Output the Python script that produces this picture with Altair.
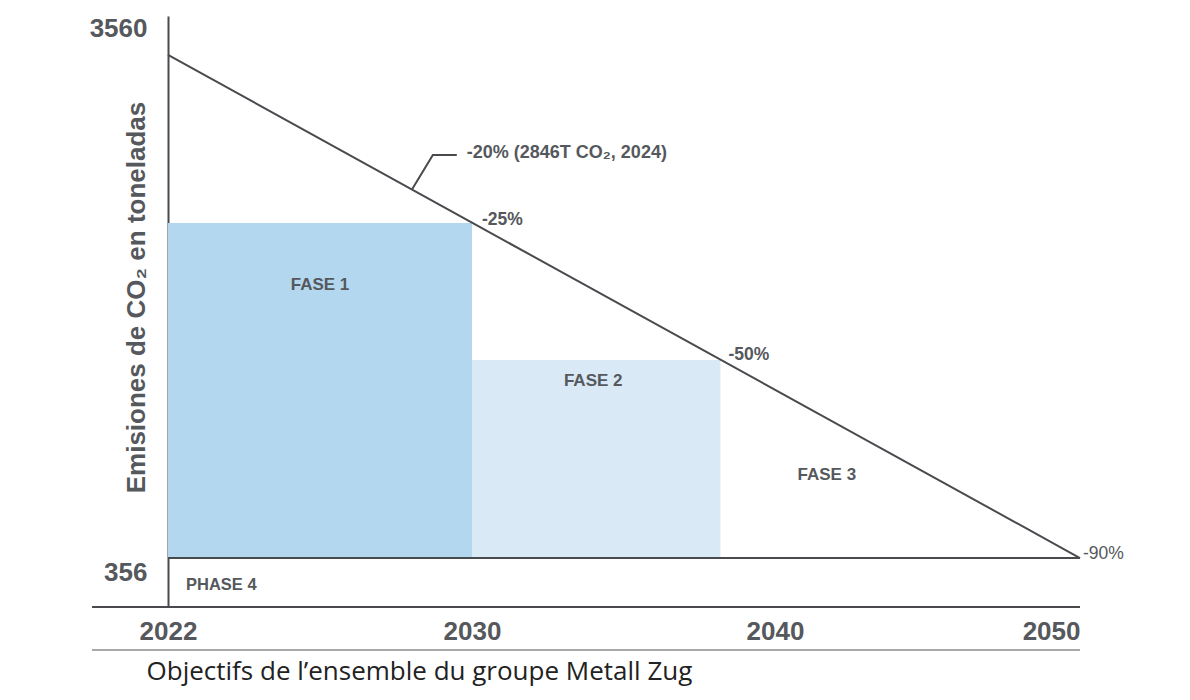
import altair as alt
import pandas as pd

# ---- data ----
x_tick_years = [2022, 2030, 2040, 2050]
y_tick_values = [356, 3560]

path_years = [2022, 2050]
path_values = [3560, 356]

phase_names = ["FASE 1", "FASE 2"]
phase_start = [2022, 2030]
phase_end = [2030, 2038.2]
phase_top = [2490, 1617]
phase_bottom = [356, 356]
phase_colors = ["#b3d7ef", "#d9e9f6"]

fase_text = ["FASE 1", "FASE 2", "FASE 3"]
fase_year = [2026, 2034, 2041.7]
fase_value = [2095, 1483, 885]

pct_text = ["-25%", "-50%", "-90%"]
pct_year = [2030, 2038.2, 2050]
pct_value = [2490, 1617, 356]

callout_year = [2028.42, 2028.97, 2029.6]
callout_value = [2703, 2923, 2923]
callout_text = ["-20% (2846T CO\u2082, 2024)"]

phase4_text = ["PHASE 4"]
frame_years = [2020, 2050]

TXT = "#55585c"
LINE = "#484a4d"
FONT = "Liberation Sans"

x_scale = alt.Scale(domain=x_tick_years, range=[0, 304, 607, 912])
y_scale = alt.Scale(domain=[44, 3808], zero=False, nice=False)

x_axis = alt.Axis(
    values=x_tick_years, format="d", domain=False, ticks=False, tickSize=0, grid=False,
    labelFont=FONT, labelFontSize=26, labelFontWeight="bold", labelColor=TXT,
    labelBaseline="top", labelPadding=11, labelFlush=False, labelOverlap=False,
    labelAlign={"condition": {"test": "datum.value == 2050", "value": "right"}, "value": "center"},
    title="Objectifs de l\u2019ensemble du groupe Metall Zug",
    titleFont="Open Sans", titleFontSize=26, titleFontWeight="normal", titleColor="#222222",
    titleAnchor="start", titleAlign="left", titleBaseline="alphabetic", titleX=-22, titleY=72,
)
y_axis = alt.Axis(
    values=y_tick_values, format="d", domain=True, domainColor=LINE, domainWidth=2,
    ticks=False, tickSize=0, grid=False,
    labelFont=FONT, labelFontSize=26, labelFontWeight="bold", labelColor=TXT,
    labelBaseline="top", labelAlign="right", labelPadding=21, labelOverlap=False, labelFlush=False,
    labelOffset={"condition": {"test": "datum.value == 3560", "value": -39}, "value": 1},
    title="Emisiones de CO\u2082 en toneladas",
    titleFont=FONT, titleFontSize=26, titleFontWeight="bold", titleColor=TXT,
    titleAngle=270, titleAlign="center", titleBaseline="alphabetic", titleX=-24, titleY=281,
)


def X(f="year"):
    return alt.X(f, type="quantitative", scale=x_scale, axis=x_axis)


def Y(f="value"):
    return alt.Y(f, type="quantitative", scale=y_scale, axis=y_axis)


phases = pd.DataFrame({"name": phase_names, "year": phase_start, "year2": phase_end,
                       "value": phase_top, "value2": phase_bottom, "color": phase_colors})
path = pd.DataFrame({"year": path_years, "value": path_values})
base = pd.DataFrame({"year": [path_years[0]], "year2": [path_years[1]], "value": [path_values[1]]})
fases = pd.DataFrame({"label": fase_text, "year": fase_year, "value": fase_value})
callout = pd.DataFrame({"year": callout_year, "value": callout_value, "order": [0, 1, 2]})
callout_lbl = pd.DataFrame({"label": callout_text, "year": [callout_year[-1]], "value": [callout_value[-1]]})
phase4 = pd.DataFrame({"label": phase4_text, "year": [path_years[0]], "value": [path_values[1]]})
frame = pd.DataFrame({"year": [frame_years[0]], "year2": [frame_years[1]]})

rects = alt.Chart(phases).mark_rect().encode(
    x=X(), x2=alt.X2("year2"), y=Y(), y2=alt.Y2("value2"),
    color=alt.Color("color:N", scale=None),
)
line = alt.Chart(path).mark_line(color=LINE, strokeWidth=2).encode(x=X(), y=Y())
baseline = alt.Chart(base).mark_rule(color=LINE, strokeWidth=2).encode(
    x=X(), x2=alt.X2("year2"), y=Y())
frame1 = alt.Chart(frame).mark_rule(color=LINE, strokeWidth=2).encode(
    x=X(), x2=alt.X2("year2"), y=alt.value(591))
frame2 = alt.Chart(frame).mark_rule(color="#8a8c8f", strokeWidth=1.5).encode(
    x=X(), x2=alt.X2("year2"), y=alt.value(634))

fase_lbl = alt.Chart(fases).mark_text(font=FONT, fontSize=17, fontWeight="bold", color=TXT,
                                      align="center", baseline="middle").encode(
    x=X(), y=Y(), text="label:N")

pct_layers = []
pct_style = [(10, 2, "bold"), (8, 0, "bold"), (3, 1, "normal")]
for t, yr, v, (dx, dy, w) in zip(pct_text, pct_year, pct_value, pct_style):
    d = pd.DataFrame({"label": [t], "year": [yr], "value": [v]})
    pct_layers.append(alt.Chart(d).mark_text(font=FONT, fontSize=17.5, fontWeight=w, color=TXT,
                                             align="left", baseline="alphabetic", dx=dx, dy=dy).encode(
        x=X(), y=Y(), text="label:N"))

callout_line = alt.Chart(callout).mark_line(color=LINE, strokeWidth=2).encode(
    x=X(), y=Y(), order="order:Q")
callout_txt = alt.Chart(callout_lbl).mark_text(font=FONT, fontSize=18, fontWeight="bold", color=TXT,
                                                align="left", baseline="alphabetic", dx=10, dy=3).encode(
    x=X(), y=Y(), text="label:N")
phase4_txt = alt.Chart(phase4).mark_text(font=FONT, fontSize=16.5, fontWeight="bold", color=TXT,
                                         align="left", baseline="top", dx=18, dy=19).encode(
    x=X(), y=Y(), text="label:N")

chart = alt.layer(
    rects, baseline, line, frame1, frame2, fase_lbl, *pct_layers, callout_line, callout_txt, phase4_txt
).properties(
    width=912, height=591,
    padding={"left": 160, "top": 8, "right": 102, "bottom": 85},
    autosize=alt.AutoSizeParams(type="none"),
    background="white",
).configure_view(stroke=None)

chart.save("out.html", embed_options={"renderer": "svg", "actions": False})
